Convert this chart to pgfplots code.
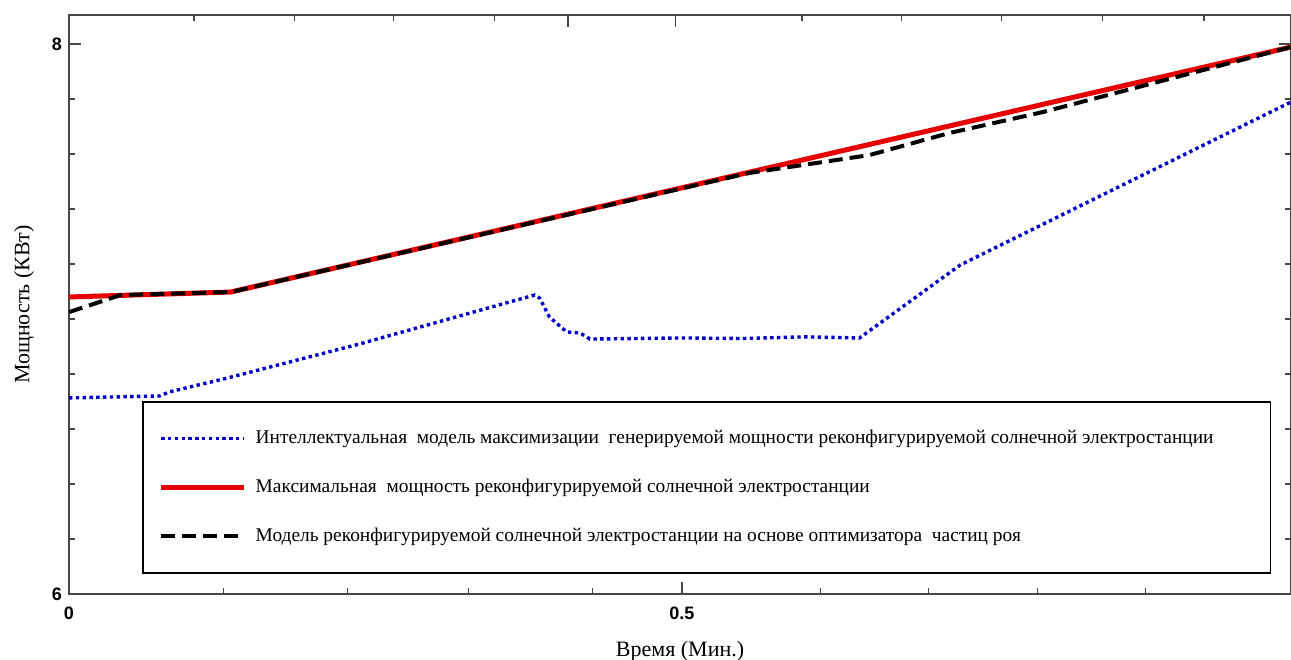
\documentclass[border=0pt]{standalone}
\usepackage{fontspec}
\setmainfont{Liberation Serif}
\setsansfont{Liberation Sans}
\usepackage{pgfplots}
\pgfplotsset{compat=1.18}
\definecolor{ablue}{RGB}{0,0,200}
\definecolor{ared}{RGB}{230,0,0}
\definecolor{agray}{RGB}{70,70,70}
\begin{document}
\begin{tikzpicture}
\begin{axis}[
  name=ax,
  scale only axis,
  width=1222pt, height=579pt,
  xmin=0, xmax=0.997, ymin=6, ymax=8.1055,
  xtick={0,0.5}, xticklabels={0,0.5},
  minor xtick={0.126,0.227,0.326,0.427,0.613,0.701,0.790,0.878},
  xtick pos=left,
  ytick={6,8}, yticklabels={6,8},
  minor ytick={6.2,6.4,6.6,6.8,7.0,7.2,7.4,7.6,7.8},
  ytick pos=both,
  tick align=inside,
  major tick length=12pt, minor tick length=6pt,
  axis line style={draw=agray, line width=2pt},
  every tick/.style={draw=agray, line width=1.5pt},
  every minor tick/.style={draw=agray, line width=1.3pt},
  /pgf/number format/assume math mode=true,
  ticklabel style={font=\sffamily\bfseries\fontsize{18}{18}\selectfont, inner sep=0pt},
  xticklabel shift=13pt,
  yticklabel shift=7pt,
  xlabel={Время (Мин.)},
  ylabel={Мощность (КВт)},
  label style={font=\fontsize{22}{24}\selectfont},
  xlabel style={at={(axis description cs:0.5,0)}, anchor=base, yshift=-63pt},
  ylabel style={at={(axis description cs:0,0.5)}, anchor=center, yshift=45pt},
  legend cell align=left,
  legend image code/.code={\draw[#1] (0pt,0pt) -- (83pt,0pt);},
  legend style={
    at={(rel axis cs:0.0597,0.333)}, anchor=north west,
    draw=black, line width=1.6pt, fill=white,
    inner xsep=16pt, inner ysep=27pt,
    row sep=30pt,
    font=\fontsize{19.4}{21}\selectfont,
    nodes={inner sep=0pt, text height=15pt, text depth=4pt},
    /tikz/every odd column/.append style={column sep=9pt},
  },
]
\addplot[ablue, line width=3.4pt, dash pattern=on 3.4pt off 3.4pt] coordinates {
 (0,6.713) (0.074,6.720) (0.082,6.735) (0.129,6.785) (0.237,6.909)
 (0.370,7.075) (0.380,7.087) (0.384,7.076) (0.392,7.007) (0.406,6.953)
 (0.417,6.949) (0.425,6.927) (0.5,6.931) (0.55,6.929) (0.6,6.935)
 (0.645,6.931) (0.727,7.196) (0.997,7.789)
};
\addlegendentry{\makebox[999pt][l]{Интеллектуальная\ \ модель максимизации\ \ генерируемой мощности реконфигурируемой солнечной электростанции}}
\addplot[ared, line width=5pt] coordinates {
 (0,7.080) (0.132,7.098) (0.997,7.989)
};
\addlegendentry{Максимальная\ \ мощность реконфигурируемой солнечной электростанции}
\addplot[black, line width=4pt, dash pattern=on 14pt off 7pt] coordinates {
 (0,7.025) (0.042,7.087) (0.132,7.098) (0.555,7.531) (0.653,7.596)
 (0.718,7.676) (0.795,7.753) (0.997,7.989)
};
\addlegendentry{Модель реконфигурируемой солнечной электростанции на основе оптимизатора\ \ частиц роя}
\end{axis}
\begin{axis}[
  scale only axis,
  width=1222pt, height=579pt,
  xmin=0, xmax=0.997, ymin=6, ymax=8.1055,
  hide y axis,
  xtick pos=right,
  xtick={0.407,0.495}, xticklabels={},
  minor xtick={0.102,0.184,0.265,0.347,0.598,0.679,0.761,0.843,0.926},
  tick align=inside,
  major tick length=12pt, minor tick length=6pt,
  axis line style={draw=agray, line width=2pt},
  every tick/.style={draw=agray, line width=1.5pt},
  every minor tick/.style={draw=agray, line width=1.3pt},
]
\end{axis}
\pgfresetboundingbox
\path ([shift={(-69pt,-66pt)}]ax.south west) rectangle ([shift={(0pt,15pt)}]ax.north east);
\end{tikzpicture}
\end{document}
